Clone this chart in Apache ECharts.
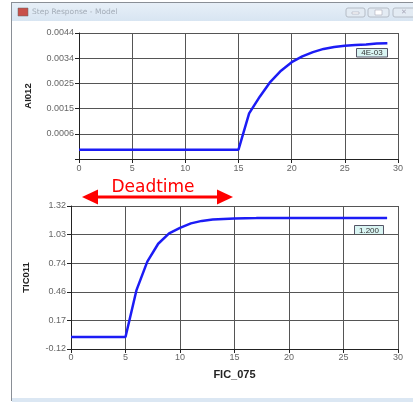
<!DOCTYPE html>
<html>
<head>
<meta charset="utf-8">
<script src="https://cdn.jsdelivr.net/npm/echarts@6/dist/echarts.min.js"></script>
<style>
html,body{margin:0;padding:0;background:#fff;}
#c{width:413px;height:402px;}
</style>
</head>
<body>
<div id="c"></div>
<script>
// ---- data ----
const xTime = [0,1,2,3,4,5,6,7,8,9,10,11,12,13,14,15,16,17,18,19,20,21,22,23,24,25,26,27,28,29];
const ai012 = [0,0,0,0,0,0,0,0,0,0,0,0,0,0,0,0,0.00137,0.0020,0.00256,0.00298,0.0033,0.00352,0.00368,0.0038,0.00387,0.00392,0.00395,0.00397,0.0040,0.00401];
const tic011 = [0,0,0,0,0,0,0.47,0.76,0.94,1.045,1.10,1.145,1.17,1.183,1.19,1.195,1.197,1.198,1.2,1.2,1.2,1.2,1.2,1.2,1.2,1.2,1.2,1.2,1.2,1.2];
const topTicks = [-0.00035,0.0006,0.00155,0.0025,0.00345,0.0044];
const topTickLabels = ['','0.0006','0.0015','0.0025','0.0034','0.0044'];
const botTicks = [-0.12,0.168,0.456,0.744,1.032,1.32];
const botTickLabels = ['-0.12','0.17','0.46','0.74','1.03','1.32'];
const topValueLabel = '4E-03';
const botValueLabel = '1.200';
const windowTitle = 'Step Response - Model';
const annotationText = 'Deadtime';

const chart = echarts.init(document.getElementById('c'), null, {renderer:'canvas'});
const font = 'Liberation Sans, Arial, sans-serif';
const gridColor = '#555';

function lookup(ticks, labels){
  return function(v){
    let best = 0, bd = Infinity;
    ticks.forEach((t,i)=>{ const d=Math.abs(t-v); if(d<bd){bd=d;best=i;} });
    return labels[best];
  };
}
function xAxisCfg(gridIndex, name, margin){
  return {
    type:'value', gridIndex, min:0, max:30, interval:5,
    name: name || '', nameLocation:'middle', nameGap:20,
    nameTextStyle:{fontFamily:font,fontSize:11,fontWeight:'bold',color:'#222'},
    axisLine:{show:true,onZero:false,lineStyle:{color:'#222',width:1}},
    axisTick:{show:true,length:4,lineStyle:{color:'#222'}},
    axisLabel:{fontFamily:font,fontSize:9,color:'#666',margin:margin,formatter:v=>String(v)},
    splitLine:{show:true,lineStyle:{color:gridColor,width:1}}
  };
}
function yAxisCfg(gridIndex, name, ticks, labels, gap){
  return {
    type:'value', gridIndex, min:ticks[0], max:ticks[ticks.length-1],
    name, nameLocation:'middle', nameGap:gap, nameRotate:90,
    nameTextStyle:{fontFamily:font,fontSize:9.5,fontWeight:'bold',color:'#222'},
    axisLine:{show:true,lineStyle:{color:'#222',width:1}},
    axisTick:{show:true,length:4,customValues:ticks,lineStyle:{color:'#222'}},
    axisLabel:{fontFamily:font,fontSize:9,color:'#666',margin:5,customValues:ticks,formatter:lookup(ticks,labels)},
    splitLine:{show:true,lineStyle:{color:gridColor,width:1}}
  };
}
function boxLabel(x,y,w,h,text){
  return {
    type:'group', x, y, children:[
      {type:'rect',shape:{x:0,y:0,width:w,height:h},style:{fill:'#d9f5f3',stroke:'#556',lineWidth:1}},
      {type:'text',x:w/2,y:h/2+0.5,style:{text,fontFamily:font,fontSize:8,fill:'#333',align:'center',verticalAlign:'middle'}}
    ]
  };
}

const option = {
  backgroundColor:'#fff',
  animation:false,
  grid:[
    {left:79,right:15,top:33,height:126,containLabel:false},
    {left:71,right:15,top:206,height:143,containLabel:false}
  ],
  xAxis:[xAxisCfg(0,'',5), xAxisCfg(1,'FIC_075',4)],
  yAxis:[
    yAxisCfg(0,'AI012',topTicks,topTickLabels,46),
    yAxisCfg(1,'TIC011',botTicks,botTickLabels,40)
  ],
  series:[
    {type:'line',xAxisIndex:0,yAxisIndex:0,data:xTime.map((x,i)=>[x,ai012[i]]),
     showSymbol:false,symbol:'none',lineStyle:{color:'#1c1cf5',width:2.5},z:5},
    {type:'line',xAxisIndex:1,yAxisIndex:1,data:xTime.map((x,i)=>[x,tic011[i]]),
     showSymbol:false,symbol:'none',lineStyle:{color:'#1c1cf5',width:2.5},z:5}
  ],
  graphic:[
    // window frame
    {type:'rect',shape:{x:11,y:2,width:410,height:19},style:{fill:new echarts.graphic.LinearGradient(0,0,0,1,[{offset:0,color:'#e8f0f8'},{offset:1,color:'#d8e5f2'}])},z:-1},
    {type:'line',shape:{x1:11,y1:2.5,x2:413,y2:2.5},style:{stroke:'#8a8f96',lineWidth:1}},
    {type:'line',shape:{x1:11.5,y1:2,x2:11.5,y2:401},style:{stroke:'#8a8f96',lineWidth:1}},
    {type:'rect',shape:{x:12,y:398,width:401,height:4},style:{fill:'#dbe7f3'}},
    // icon
    {type:'rect',shape:{x:18,y:8,width:10,height:8},style:{fill:'#c8504a',stroke:'#666',lineWidth:0.5}},
    {type:'text',x:32,y:12,style:{text:windowTitle,fontFamily:'DejaVu Sans, sans-serif',fontSize:7.5,fill:'#a4adb8',verticalAlign:'middle'}},
    // buttons
    {type:'rect',shape:{x:346,y:8,width:19,height:9,r:2},style:{fill:'#e3ebf3',stroke:'#b5bcc6',lineWidth:1}},
    {type:'rect',shape:{x:352,y:12,width:7,height:2},style:{fill:'#fff',stroke:'#99a',lineWidth:0.5}},
    {type:'rect',shape:{x:368,y:8,width:21,height:9,r:2},style:{fill:'#e3ebf3',stroke:'#b5bcc6',lineWidth:1}},
    {type:'rect',shape:{x:375,y:10,width:7,height:5},style:{fill:'#fff',stroke:'#99a',lineWidth:0.5}},
    {type:'rect',shape:{x:393,y:8,width:22,height:9,r:2},style:{fill:'#e3ebf3',stroke:'#b5bcc6',lineWidth:1}},
    {type:'text',x:401,y:12.5,style:{text:'✕',fontSize:7,fill:'#aab',verticalAlign:'middle'}},
    // value boxes
    boxLabel(356.5,48.5,31,8.5,topValueLabel),
    boxLabel(354.5,225.5,29,9,botValueLabel),
    // deadtime annotation
    {type:'text',x:153,y:188,style:{text:annotationText,fontFamily:'DejaVu Sans, sans-serif',fontSize:17,fill:'#ff0000',align:'center',verticalAlign:'middle'}},
    {type:'line',shape:{x1:95,y1:197,x2:220,y2:197},style:{stroke:'#ff0000',lineWidth:3}},
    {type:'polygon',shape:{points:[[82,197],[98,189.5],[98,204.5]]},style:{fill:'#ff0000'}},
    {type:'polygon',shape:{points:[[233,197],[217,189.5],[217,204.5]]},style:{fill:'#ff0000'}}
  ]
};
chart.setOption(option);
</script>
</body>
</html>
